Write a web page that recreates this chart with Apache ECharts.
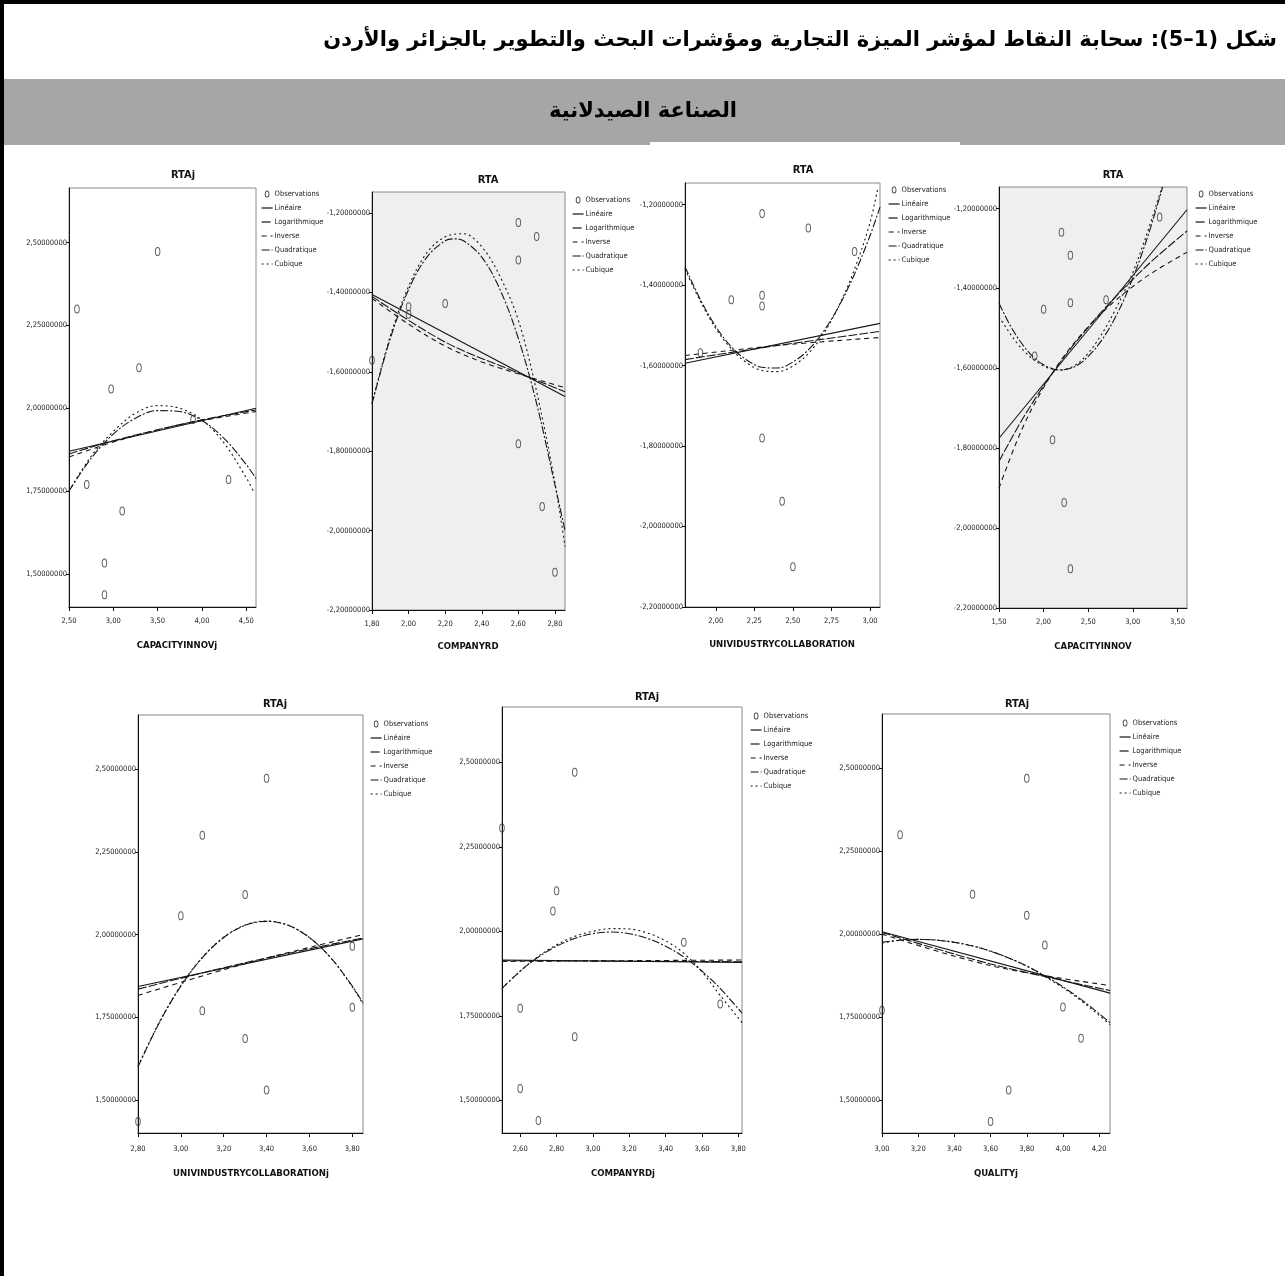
<!DOCTYPE html>
<html>
<head>
<meta charset="utf-8">
<script src="https://cdn.jsdelivr.net/npm/echarts@6/dist/echarts.min.js"></script>
<style>
html,body{margin:0;padding:0;background:#fff;}
#c{width:1285px;height:1276px;}
</style>
</head>
<body>
<div id="c"></div>
<script>
// ---------- texts ----------
const pageTitle = 'شكل (1–5): سحابة النقاط لمؤشر الميزة التجارية ومؤشرات البحث والتطوير بالجزائر والأردن';
const bandTitle = 'الصناعة الصيدلانية';
const seriesNames = ['Observations', 'Linéaire', 'Logarithmique', 'Inverse', 'Quadratique', 'Cubique'];

// ---------- tick labels ----------
const rtajTicks = [1.5, 1.75, 2.0, 2.25, 2.5];
const rtaTicks = [-2.2, -2.0, -1.8, -1.6, -1.4, -1.2];
const p1XTicks = [2.5, 3.0, 3.5, 4.0, 4.5];
const p2XTicks = [1.8, 2.0, 2.2, 2.4, 2.6, 2.8];
const p3XTicks = [2.0, 2.25, 2.5, 2.75, 3.0];
const p4XTicks = [1.5, 2.0, 2.5, 3.0, 3.5];
const p5XTicks = [2.8, 3.0, 3.2, 3.4, 3.6, 3.8];
const p6XTicks = [2.6, 2.8, 3.0, 3.2, 3.4, 3.6, 3.8];
const p7XTicks = [3.0, 3.2, 3.4, 3.6, 3.8, 4.0, 4.2];

// ---------- panel 1 : RTAj vs CAPACITYINNOVj ----------
const p1ObsX = [3.50, 2.59, 3.29, 2.975, 2.70, 3.10, 2.90, 2.90, 4.30, 3.90];
const p1ObsY = [2.473, 2.30, 2.122, 2.058, 1.77, 1.69, 1.533, 1.437, 1.785, 1.966];
const p1Lin = [[2.5, 1.870], [4.61, 2.0]];
const p1Log = [[2.5, 1.862], [3.0, 1.902], [3.5, 1.935], [4.0, 1.965], [4.61, 1.995]];
const p1Inv = [[2.5, 1.853], [3.0, 1.898], [3.5, 1.935], [4.0, 1.963], [4.61, 1.99]];
const p1Quad = [[2.5, 1.75], [2.75, 1.849], [3.0, 1.922], [3.25, 1.970], [3.5, 1.993], [3.75, 1.990], [4.0, 1.963], [4.25, 1.909], [4.5, 1.83], [4.61, 1.788]];
const p1Cub = [[2.5, 1.75], [2.75, 1.855], [3.0, 1.93], [3.25, 1.985], [3.5, 2.008], [3.75, 2.0], [4.0, 1.965], [4.25, 1.895], [4.5, 1.79], [4.58, 1.75]];

// ---------- panel 2 : RTA vs COMPANYRD ----------
const p2ObsX = [2.60, 2.70, 2.60, 2.20, 2.00, 2.00, 1.80, 2.60, 2.73, 2.80];
const p2ObsY = [-1.224, -1.259, -1.318, -1.428, -1.436, -1.455, -1.571, -1.781, -1.939, -2.105];
const p2Lin = [[1.8, -1.405], [2.855, -1.662]];
const p2Log = [[1.8, -1.41], [2.2, -1.525], [2.6, -1.603], [2.855, -1.65]];
const p2Inv = [[1.8, -1.415], [2.0, -1.48], [2.2, -1.535], [2.4, -1.575], [2.6, -1.605], [2.855, -1.64]];
const p2Quad = [[1.8, -1.681], [1.9, -1.516], [2.0, -1.393], [2.1, -1.311], [2.2, -1.270], [2.25, -1.265], [2.3, -1.270], [2.4, -1.311], [2.5, -1.393], [2.6, -1.516], [2.7, -1.680], [2.8, -1.885], [2.855, -2.0]];
const p2Cub = [[1.8, -1.68], [1.9, -1.51], [2.0, -1.385], [2.1, -1.30], [2.2, -1.26], [2.3, -1.252], [2.4, -1.285], [2.5, -1.36], [2.6, -1.47], [2.7, -1.65], [2.8, -1.88], [2.855, -2.04]];

// ---------- panel 3 : RTA vs UNIVIDUSTRYCOLLABORATION ----------
const p3ObsX = [2.30, 2.60, 2.90, 2.10, 2.30, 2.30, 1.90, 2.30, 2.43, 2.50];
const p3ObsY = [-1.222, -1.258, -1.316, -1.436, -1.425, -1.452, -1.568, -1.780, -1.937, -2.10];
const p3Lin = [[1.8, -1.594], [3.065, -1.495]];
const p3Log = [[1.8, -1.585], [2.4, -1.55], [3.065, -1.515]];
const p3Inv = [[1.8, -1.575], [2.4, -1.55], [3.065, -1.53]];
const p3Quad = [[1.8, -1.354], [1.9, -1.436], [2.0, -1.503], [2.1, -1.553], [2.2, -1.586], [2.3, -1.604], [2.4, -1.606], [2.5, -1.591], [2.6, -1.561], [2.7, -1.514], [2.8, -1.451], [2.9, -1.372], [3.0, -1.277], [3.065, -1.206]];
const p3Cub = [[1.8, -1.36], [1.9, -1.44], [2.0, -1.508], [2.1, -1.558], [2.2, -1.593], [2.3, -1.612], [2.4, -1.615], [2.5, -1.601], [2.6, -1.57], [2.7, -1.52], [2.8, -1.45], [2.9, -1.36], [3.0, -1.245], [3.05, -1.16]];

// ---------- panel 4 : RTA vs CAPACITYINNOV ----------
const p4ObsX = [3.30, 2.20, 2.30, 2.00, 2.30, 2.70, 1.90, 2.10, 2.23, 2.30];
const p4ObsY = [-1.221, -1.259, -1.317, -1.452, -1.436, -1.428, -1.569, -1.779, -1.936, -2.102];
const p4Lin = [[1.5, -1.775], [3.607, -1.203]];
const p4Log = [[1.5, -1.833], [1.75, -1.732], [2.0, -1.644], [2.25, -1.566], [2.5, -1.497], [2.75, -1.434], [3.0, -1.377], [3.25, -1.324], [3.607, -1.256]];
const p4Inv = [[1.5, -1.90], [1.75, -1.756], [2.0, -1.648], [2.25, -1.563], [2.5, -1.496], [2.75, -1.441], [3.0, -1.395], [3.25, -1.356], [3.607, -1.309]];
const p4Quad = [[1.5, -1.437], [1.6, -1.482], [1.7, -1.52], [1.8, -1.551], [1.9, -1.575], [2.0, -1.591], [2.1, -1.601], [2.19, -1.604], [2.3, -1.60], [2.4, -1.589], [2.5, -1.57], [2.6, -1.545], [2.7, -1.513], [2.8, -1.474], [2.9, -1.428], [3.0, -1.374], [3.1, -1.314], [3.2, -1.247], [3.3, -1.172], [3.334, -1.146]];
const p4Cub = [[1.5, -1.471], [1.6, -1.505], [1.7, -1.536], [1.8, -1.561], [1.9, -1.58], [2.0, -1.594], [2.1, -1.602], [2.2, -1.604], [2.3, -1.598], [2.4, -1.585], [2.5, -1.562], [2.6, -1.532], [2.7, -1.496], [2.8, -1.455], [2.9, -1.41], [3.0, -1.36], [3.1, -1.30], [3.2, -1.235], [3.3, -1.165], [3.33, -1.146]];

// ---------- panel 5 : RTAj vs UNIVINDUSTRYCOLLABORATIONj ----------
const p5ObsX = [3.40, 3.10, 3.30, 3.00, 3.80, 3.10, 3.80, 3.30, 3.40, 2.80];
const p5ObsY = [2.473, 2.30, 2.121, 2.057, 1.965, 1.77, 1.78, 1.686, 1.53, 1.435];
const p5Lin = [[2.8, 1.843], [3.85, 1.987]];
const p5Log = [[2.8, 1.835], [3.3, 1.915], [3.85, 1.99]];
const p5Inv = [[2.8, 1.816], [3.3, 1.912], [3.85, 2.0]];
const p5Quad = [[2.8, 1.60], [2.9, 1.734], [3.0, 1.844], [3.1, 1.93], [3.2, 1.991], [3.3, 2.028], [3.4, 2.04], [3.5, 2.028], [3.6, 1.991], [3.7, 1.93], [3.8, 1.844], [3.85, 1.793]];
const p5Cub = [[2.8, 1.602], [2.9, 1.736], [3.0, 1.846], [3.1, 1.931], [3.2, 1.992], [3.3, 2.029], [3.4, 2.041], [3.5, 2.029], [3.6, 1.991], [3.7, 1.929], [3.8, 1.842], [3.85, 1.79]];

// ---------- panel 6 : RTAj vs COMPANYRDj ----------
const p6ObsX = [2.90, 2.50, 2.80, 2.78, 3.50, 3.70, 2.60, 2.90, 2.60, 2.70];
const p6ObsY = [2.471, 2.306, 2.12, 2.06, 1.968, 1.785, 1.772, 1.688, 1.535, 1.44];
const p6Lin = [[2.5, 1.915], [3.82, 1.908]];
const p6Log = [[2.5, 1.913], [3.82, 1.910]];
const p6Inv = [[2.5, 1.911], [3.82, 1.915]];
const p6Quad = [[2.5, 1.831], [2.6, 1.882], [2.7, 1.924], [2.8, 1.956], [2.9, 1.979], [3.0, 1.993], [3.1, 1.998], [3.2, 1.993], [3.3, 1.979], [3.4, 1.956], [3.5, 1.924], [3.6, 1.882], [3.7, 1.831], [3.82, 1.758]];
const p6Cub = [[2.5, 1.83], [2.6, 1.882], [2.7, 1.926], [2.8, 1.96], [2.9, 1.985], [3.0, 2.0], [3.1, 2.008], [3.2, 2.007], [3.3, 1.995], [3.4, 1.972], [3.5, 1.935], [3.6, 1.88], [3.7, 1.81], [3.82, 1.73]];

// ---------- panel 7 : RTAj vs QUALITYj ----------
const p7ObsX = [3.80, 3.10, 3.50, 3.80, 3.90, 3.00, 4.00, 4.10, 3.70, 3.60];
const p7ObsY = [2.47, 2.30, 2.12, 2.057, 1.967, 1.77, 1.78, 1.686, 1.53, 1.435];
const p7Lin = [[3.0, 2.007], [4.26, 1.822]];
const p7Log = [[3.0, 2.005], [3.6, 1.91], [4.26, 1.83]];
const p7Inv = [[3.0, 2.0], [3.6, 1.905], [4.26, 1.845]];
const p7Quad = [[3.0, 1.975], [3.1, 1.982], [3.2, 1.984], [3.3, 1.982], [3.4, 1.975], [3.5, 1.964], [3.6, 1.948], [3.7, 1.928], [3.8, 1.904], [3.9, 1.874], [4.0, 1.841], [4.1, 1.803], [4.2, 1.76], [4.26, 1.733]];
const p7Cub = [[3.0, 1.973], [3.1, 1.981], [3.2, 1.984], [3.3, 1.982], [3.4, 1.976], [3.5, 1.965], [3.6, 1.949], [3.7, 1.928], [3.8, 1.903], [3.9, 1.872], [4.0, 1.838], [4.1, 1.799], [4.2, 1.755], [4.26, 1.727]];

// ---------- layout ----------
const NARROW = "'Liberation Sans Narrow','Arial Narrow','DejaVu Sans Condensed',sans-serif";
const panels = [
  {grid: [69, 188, 187, 419], bg: '#ffffff', x: [2.5, 4.61], y: [1.40, 2.665], xt: p1XTicks, yt: rtajTicks,
   title: 'RTAj', tpos: [183, 175], xname: 'CAPACITYINNOVj', npos: [177, 646], leg: [261, 190], lm: 10,
   ox: p1ObsX, oy: p1ObsY, lines: [p1Lin, p1Log, p1Inv, p1Quad, p1Cub]},
  {grid: [372, 192, 193, 418], bg: '#efefef', x: [1.8, 2.855], y: [-2.2, -1.147], xt: p2XTicks, yt: rtaTicks,
   title: 'RTA', tpos: [488, 180], xname: 'COMPANYRD', npos: [468, 647], leg: [572, 196], lm: 10,
   ox: p2ObsX, oy: p2ObsY, lines: [p2Lin, p2Log, p2Inv, p2Quad, p2Cub]},
  {grid: [685, 183, 195, 424], bg: '#ffffff', x: [1.8, 3.065], y: [-2.2, -1.146], xt: p3XTicks, yt: rtaTicks,
   title: 'RTA', tpos: [803, 170], xname: 'UNIVIDUSTRYCOLLABORATION', npos: [782, 645], leg: [888, 186], lm: 10,
   ox: p3ObsX, oy: p3ObsY, lines: [p3Lin, p3Log, p3Inv, p3Quad, p3Cub]},
  {grid: [999, 187, 188, 421], bg: '#efefef', x: [1.5, 3.607], y: [-2.2, -1.146], xt: p4XTicks, yt: rtaTicks,
   title: 'RTA', tpos: [1113, 175], xname: 'CAPACITYINNOV', npos: [1093, 647], leg: [1195, 190], lm: 10,
   ox: p4ObsX, oy: p4ObsY, lines: [p4Lin, p4Log, p4Inv, p4Quad, p4Cub]},
  {grid: [138, 715, 225, 418], bg: '#ffffff', x: [2.8, 3.85], y: [1.40, 2.664], xt: p5XTicks, yt: rtajTicks,
   title: 'RTAj', tpos: [275, 704], xname: 'UNIVINDUSTRYCOLLABORATIONj', npos: [251, 1174], leg: [370, 720], lm: 12,
   ox: p5ObsX, oy: p5ObsY, lines: [p5Lin, p5Log, p5Inv, p5Quad, p5Cub]},
  {grid: [502, 707, 240, 426], bg: '#ffffff', x: [2.5, 3.82], y: [1.403, 2.664], xt: p6XTicks, yt: rtajTicks,
   title: 'RTAj', tpos: [647, 697], xname: 'COMPANYRDj', npos: [623, 1174], leg: [750, 712], lm: 12,
   ox: p6ObsX, oy: p6ObsY, lines: [p6Lin, p6Log, p6Inv, p6Quad, p6Cub]},
  {grid: [882, 714, 228, 419], bg: '#ffffff', x: [3.0, 4.26], y: [1.40, 2.664], xt: p7XTicks, yt: rtajTicks,
   title: 'RTAj', tpos: [1017, 704], xname: 'QUALITYj', npos: [996, 1174], leg: [1119, 719], lm: 12,
   ox: p7ObsX, oy: p7ObsY, lines: [p7Lin, p7Log, p7Inv, p7Quad, p7Cub]}
];

const RING = 'path://M3,0A3,4.5 0 1,1 3,9A3,4.5 0 1,1 3,0ZM3,1A2,3.5 0 1,0 3,8A2,3.5 0 1,0 3,1Z';
const lineTypes = ['solid', [9, 2], [5, 4], [8, 2, 2, 2], [2, 3]];
const fmt = (v, d) => v.toFixed(d).replace('.', ',');
const LINE_COLOR = '#151515';

const grids = [], xAxes = [], yAxes = [], series = [], legends = [], graphics = [];

// page frame and headings
graphics.push({type: 'rect', shape: {x: 0, y: 0, width: 4, height: 1276}, style: {fill: '#000'}});
graphics.push({type: 'rect', shape: {x: 0, y: 0, width: 1285, height: 4}, style: {fill: '#000'}});
graphics.push({type: 'rect', shape: {x: 4, y: 79, width: 1281, height: 66}, style: {fill: '#a6a6a6'}});
graphics.push({type: 'rect', shape: {x: 650, y: 142, width: 310, height: 4}, style: {fill: '#ffffff'}});
graphics.push({type: 'text', x: 1277, y: 41, style: {text: pageTitle, textAlign: 'right', textVerticalAlign: 'middle',
  font: "bold 21px 'DejaVu Sans', sans-serif", fill: '#000'}});
graphics.push({type: 'text', x: 643, y: 112, style: {text: bandTitle, textAlign: 'center', textVerticalAlign: 'middle',
  font: "bold 21px 'DejaVu Sans', sans-serif", fill: '#000'}});

const legendData = seriesNames.map((n, k) => k === 0
  ? {name: n, itemStyle: {opacity: 1, color: '#333'}}
  : {name: n, itemStyle: {opacity: 0}, lineStyle: {color: LINE_COLOR, width: 1.2, type: lineTypes[k - 1]}});

panels.forEach((p, i) => {
  grids.push({left: p.grid[0], top: p.grid[1], width: p.grid[2], height: p.grid[3], show: true,
    backgroundColor: p.bg, borderColor: '#8a8a8a', borderWidth: 1});
  xAxes.push({gridIndex: i, type: 'value', min: p.x[0], max: p.x[1],
    axisLine: {show: true, onZero: false, lineStyle: {color: '#111', width: 1}},
    axisTick: {show: true, customValues: p.xt, length: 4, lineStyle: {color: '#111'}},
    axisLabel: {customValues: p.xt, formatter: v => fmt(v, 2), fontSize: 7.5, fontFamily: NARROW, color: '#222', margin: p.lm},
    splitLine: {show: false}});
  yAxes.push({gridIndex: i, type: 'value', min: p.y[0], max: p.y[1],
    axisLine: {show: true, onZero: false, lineStyle: {color: '#111', width: 1}},
    axisTick: {show: true, customValues: p.yt, length: 3, lineStyle: {color: '#111'}},
    axisLabel: {customValues: p.yt, formatter: v => fmt(v, 8), fontSize: 7.5, fontFamily: NARROW, color: '#222', margin: 2},
    splitLine: {show: false}});
  series.push({type: 'scatter', name: seriesNames[0], xAxisIndex: i, yAxisIndex: i, symbol: RING, symbolSize: [5.5, 9],
    itemStyle: {color: '#333'}, z: 4, silent: true,
    data: p.ox.map((v, k) => [v, p.oy[k]])});
  p.lines.forEach((d, k) => {
    series.push({type: 'line', name: seriesNames[k + 1], xAxisIndex: i, yAxisIndex: i, data: d,
      showSymbol: false, symbol: 'none', smooth: k === 0 ? false : 0.35, silent: true, z: 3,
      itemStyle: {color: LINE_COLOR},
      lineStyle: {color: LINE_COLOR, width: 1.1, type: lineTypes[k]}});
  });
  legends.push({orient: 'vertical', left: p.leg[0], top: p.leg[1], padding: 0, itemGap: 6,
    itemWidth: 11, itemHeight: 7, selectedMode: false, data: legendData,
    textStyle: {fontSize: 7.5, fontFamily: NARROW, color: '#222', padding: [0, 0, 0, -3], lineHeight: 8}});
  graphics.push({type: 'text', x: p.tpos[0], y: p.tpos[1], style: {text: p.title, textAlign: 'center',
    textVerticalAlign: 'middle', font: 'bold 11px ' + NARROW, fill: '#111'}});
  graphics.push({type: 'text', x: p.npos[0], y: p.npos[1], style: {text: p.xname, textAlign: 'center',
    textVerticalAlign: 'middle', font: 'bold 9.5px ' + NARROW, fill: '#111'}});
});

const chart = echarts.init(document.getElementById('c'), null, {renderer: 'canvas'});
chart.setOption({
  animation: false,
  backgroundColor: '#ffffff',
  grid: grids, xAxis: xAxes, yAxis: yAxes, series: series, legend: legends,
  graphic: {elements: graphics}
});
</script>
</body>
</html>
